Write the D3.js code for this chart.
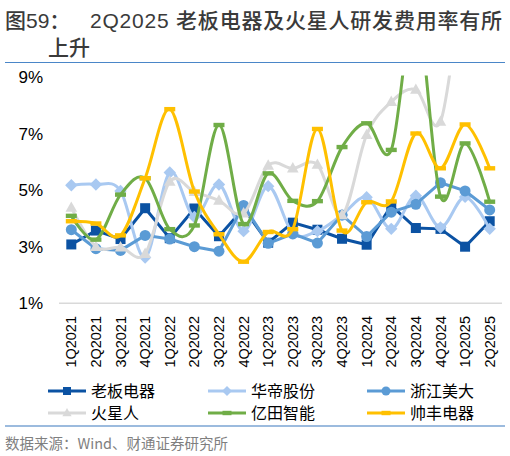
<!DOCTYPE html>
<html>
<head>
<meta charset="utf-8">
<script src="https://cdn.jsdelivr.net/npm/d3@7"></script>
<style>
body{margin:0;background:#fff;}
svg{display:block;font-family:"Liberation Sans","Noto Sans CJK SC",sans-serif;}
</style>
</head>
<body>
<svg id="canvas" width="510" height="456"></svg>
<script>
// quarters on the x axis
const quarters = ["1Q2021","2Q2021","3Q2021","4Q2021","1Q2022","2Q2022","3Q2022","4Q2022",
  "1Q2023","2Q2023","3Q2023","4Q2023","1Q2024","2Q2024","3Q2024","4Q2024","1Q2025","2Q2025"];
const yTicks = [1,3,5,7,9];

// R&D expense ratio, %
const laoban   = [3.08,3.57,3.27,4.36,3.3,4.35,3.37,4.35,3.14,3.85,3.6,3.28,3.07,4.45,3.66,3.63,3.0,3.9];
const huadi    = [5.17,5.2,4.97,2.62,5.62,4.05,5.2,3.55,5.14,3.48,3.55,4.12,4.75,3.63,4.8,3.68,4.76,3.63];
const meida    = [3.6,2.93,2.87,3.4,3.27,3.0,2.84,4.46,3.12,3.45,3.13,4.12,3.36,4.22,4.5,5.26,4.97,4.3];
const huoxing  = [4.38,3.0,2.98,2.75,5.3,4.94,4.63,4.18,5.87,5.77,5.9,4.12,6.95,8.12,8.55,7.42,12.5,13];
const yitian   = [4.09,3.25,4.84,5.42,3.62,3.75,7.3,3.8,5.59,4.62,4.61,6.52,7.36,6.42,11.5,4.77,6.65,4.59];
const shuaifeng= [3.9,3.82,3.4,5.42,7.86,4.95,3.44,2.47,3.52,3.62,7.16,3.57,4.57,4.6,7.0,5.77,7.32,5.77];

const names = ["老板电器","华帝股份","浙江美大","火星人","亿田智能","帅丰电器"];

let svg = d3.select("#canvas");

const series = [
  {name:names[0], v:laoban,    color:"#0b52a3", marker:"square",   smooth:false},
  {name:names[1], v:huadi,     color:"#a9c9f1", marker:"diamond",  smooth:true},
  {name:names[2], v:meida,     color:"#5b9bd5", marker:"circle",   smooth:false},
  {name:names[3], v:huoxing,   color:"#d9d9d9", marker:"triangle", smooth:true},
  {name:names[4], v:yitian,    color:"#70ad47", marker:"dash",     smooth:true},
  {name:names[5], v:shuaifeng, color:"#ffc000", marker:"dash",     smooth:true}
];

let x = d3.scalePoint().domain(quarters).range([59,502]).padding(0.5);
let y = d3.scaleLinear().domain([1,9]).range([303.3,76.9]);

// title
svg.append("text").attr("x",5).attr("y",28).style("font-size","21px").style("font-weight","500")
  .attr("fill","#3a3a3a").text("图59：");
svg.append("text").attr("x",90).attr("y",28).style("font-size","21px").style("font-weight","500")
  .attr("fill","#3a3a3a").attr("textLength",412).attr("lengthAdjust","spacing")
  .text("2Q2025 老板电器及火星人研发费用率有所");
svg.append("text").attr("x",48).attr("y",55).style("font-size","21px").style("font-weight","500")
  .attr("fill","#3a3a3a").text("上升");

svg.append("line").attr("x1",5).attr("x2",505).attr("y1",62.5).attr("y2",62.5).attr("stroke","#4a86c8").attr("stroke-width",1.2);
svg.append("line").attr("x1",5).attr("x2",505).attr("y1",426).attr("y2",426).attr("stroke","#3a78bd").attr("stroke-width",1.2);

// y labels
svg.append("g").selectAll("text").data(yTicks).join("text")
  .attr("x",43).attr("y",d=>y(d)).attr("dy","0.36em").attr("text-anchor","end")
  .style("font-size","17px").attr("fill","#000").text(d=>d+"%");

// baseline
svg.append("line").attr("x1",59).attr("x2",502).attr("y1",y(1)).attr("y2",y(1)).attr("stroke","#d9d9d9").attr("stroke-width",1.5);

// x labels
svg.append("g").selectAll("text").data(quarters).join("text")
  .attr("transform",d=>`translate(${x(d)},316) rotate(-90)`)
  .attr("text-anchor","end").attr("dy","0.35em")
  .style("font-size","14.5px").attr("fill","#000").text(d=>d);

svg.append("defs").append("clipPath").attr("id","plot")
  .append("rect").attr("x",40).attr("y",y(9)-1.5).attr("width",470).attr("height",260);

function drawMarker(g, type, cx, cy, color, s){
  if(type=="square") g.append("rect").attr("x",cx-s/2).attr("y",cy-s/2).attr("width",s).attr("height",s).attr("fill",color);
  else if(type=="circle") g.append("circle").attr("cx",cx).attr("cy",cy).attr("r",s/2+0.5).attr("fill",color);
  else if(type=="diamond") g.append("path").attr("d",`M${cx},${cy-s*0.62}L${cx+s*0.62},${cy}L${cx},${cy+s*0.62}L${cx-s*0.62},${cy}Z`).attr("fill",color);
  else if(type=="triangle") g.append("path").attr("d",`M${cx},${cy-s*0.62}L${cx+s*0.58},${cy+s*0.42}L${cx-s*0.58},${cy+s*0.42}Z`).attr("fill",color);
  else if(type=="dash") g.append("rect").attr("x",cx-s/2-0.5).attr("y",cy-2.2).attr("width",s+1).attr("height",4.4).attr("fill",color);
}

let plot = svg.append("g").attr("clip-path","url(#plot)");
series.forEach(s=>{
  let line = d3.line().x((d,i)=>x(quarters[i])).y(d=>y(d))
    .curve(s.smooth ? d3.curveCardinal.tension(0) : d3.curveLinear);
  let g = plot.append("g");
  g.append("path").attr("d",line(s.v)).attr("fill","none").attr("stroke",s.color).attr("stroke-width",3);
  s.v.forEach((v,i)=>{ if(v<=9) drawMarker(g,s.marker,x(quarters[i]),y(v),s.color,10); });
});

// legend
const legX = [48,208,367];
const legY = [391,413];
series.forEach((s,i)=>{
  let lx = legX[i%3], ly = legY[Math.floor(i/3)];
  let g = svg.append("g");
  g.append("line").attr("x1",lx).attr("x2",lx+38).attr("y1",ly).attr("y2",ly).attr("stroke",s.color).attr("stroke-width",3);
  drawMarker(g,s.marker,lx+19,ly,s.color,8);
  g.append("text").attr("x",lx+43).attr("y",ly).attr("dy","0.36em")
    .style("font-size","16px").style("font-family","'Noto Sans CJK SC'").attr("fill","#000").text(s.name);
});

svg.append("text").attr("x",5).attr("y",449).style("font-size","14.5px").attr("fill","#7f7f7f")
  .style("font-family","'Noto Sans CJK SC'").text("数据来源：Wind、财通证券研究所");
</script>
</body>
</html>
